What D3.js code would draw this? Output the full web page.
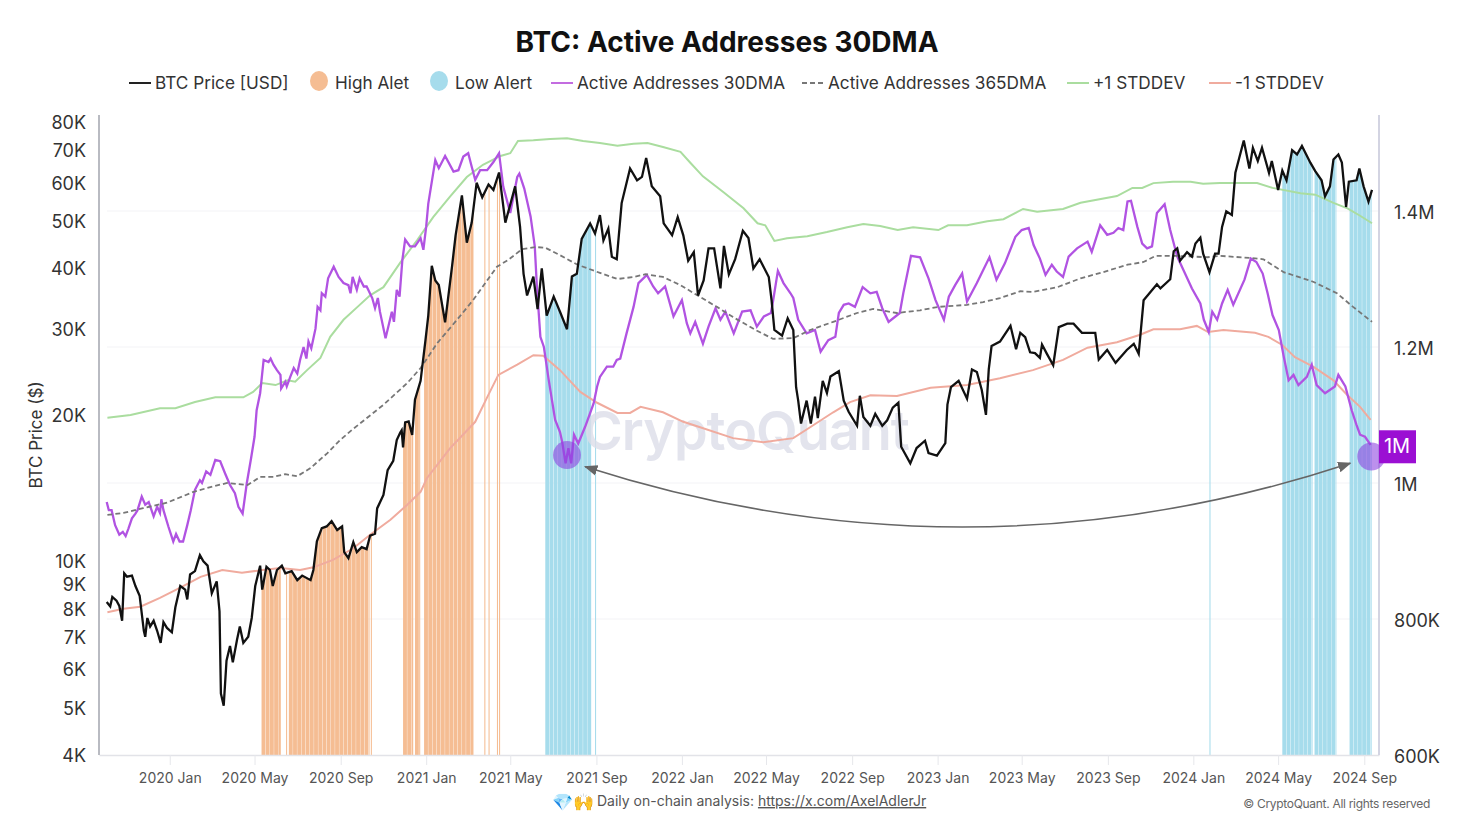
<!DOCTYPE html>
<html>
<head>
<meta charset="utf-8">
<title>BTC: Active Addresses 30DMA</title>
<script src="https://cdn.jsdelivr.net/npm/d3@7"></script>
<style>
  html, body { margin: 0; padding: 0; background: #fff; }
  text { font-family: Inter, "Noto Sans", sans-serif; }
</style>
</head>
<body>
<div id="chart"></div>
<script>
// all series: days since 2020-01-01 + value
var priceDays = [-90,-85,-82,-76,-72,-68,-65,-61,-54,-49,-43,-37,-35,-32,-28,-23,-18,-13,-9,-4,3,8,15,22,25,29,36,43,48,54,60,67,71,73,77,81,86,90,96,100,105,112,117,122,129,132,138,143,147,153,160,165,174,182,189,201,205,210,217,224,231,239,246,249,255,262,267,274,281,286,293,296,305,311,319,324,329,331,333,336,341,346,350,358,365,369,374,379,384,393,403,408,417,424,431,438,446,455,462,470,479,493,500,505,510,519,525,531,538,548,557,567,574,581,588,600,607,614,619,626,631,638,645,657,667,674,680,688,700,705,717,725,733,740,748,754,762,769,777,786,791,798,807,818,826,833,842,855,859,863,874,882,890,894,897,901,909,915,921,925,932,938,943,955,962,969,981,985,990,1000,1007,1017,1024,1032,1040,1044,1057,1066,1078,1083,1095,1107,1110,1115,1126,1138,1145,1152,1159,1165,1169,1173,1185,1200,1208,1214,1221,1228,1235,1242,1245,1252,1261,1269,1281,1290,1302,1321,1326,1338,1350,1366,1376,1383,1390,1409,1414,1428,1433,1438,1442,1452,1459,1464,1471,1475,1484,1492,1497,1502,1508,1516,1521,1533,1541,1546,1553,1559,1569,1573,1582,1588,1594,1602,1609,1616,1628,1635,1644,1649,1656,1661,1668,1673,1679,1683,1694,1698,1704,1711,1716];
var priceUsd = [8250,8080,8450,8300,8100,7550,9450,9300,9350,8900,8500,7200,7000,7650,7350,7550,7200,6800,7500,7300,7150,8050,8900,8750,8350,9400,9550,10300,10000,9800,8600,9100,7900,5350,5050,6250,6700,6200,6900,7350,6800,7000,7650,8900,9800,8750,9750,9600,8900,9600,9800,9450,9550,9150,9350,9150,9600,11000,11700,11800,12100,11600,11800,10450,10150,10950,10450,10700,10600,11300,11400,12850,13700,15400,16100,17750,18400,18600,17150,19300,19400,18200,21500,23500,28500,32000,40500,37800,37000,31000,40500,46800,56500,45200,49700,60000,56000,59500,58000,63000,49700,59000,48700,39000,35200,38500,33000,40000,32000,35000,32600,30000,38500,39000,46000,49500,47200,51500,45700,48300,42300,41800,54500,64200,60700,61700,67500,59000,56300,49500,46800,51000,46800,41500,43200,35200,37800,44000,44000,36400,44500,38900,41800,47800,46200,40000,41800,38400,34400,29900,29100,31600,29900,22800,21400,19200,21400,19200,21800,19700,23500,22200,24000,24600,21400,20300,19000,21900,19800,19000,20100,19000,19500,20700,21200,17200,15900,17100,17700,16700,16500,17500,21000,22800,23500,21600,24800,24500,22500,20000,24800,27700,28300,30500,27300,29500,28900,26900,26800,26200,27900,26700,25300,30300,30800,30800,29500,29500,26000,27200,25600,27200,28000,26700,34400,37100,36400,38000,43400,44000,41500,43200,42300,45000,46300,42900,39300,42900,42900,48700,52400,51500,62900,73300,64200,70800,66500,70800,62900,66500,58000,63600,60700,70000,68600,71400,66000,63400,60700,56300,59000,67000,68600,66000,53500,60300,60700,64200,59000,54900,58000];

var activeDays = [-90,-87,-83,-78,-72,-67,-63,-59,-54,-49,-46,-40,-35,-30,-23,-18,-14,-12,-9,-2,5,9,14,19,25,30,36,43,46,52,58,65,72,79,86,93,98,104,110,116,121,124,129,134,141,144,148,153,158,159,165,167,172,177,182,186,191,195,198,202,208,211,215,217,222,226,234,241,248,255,258,261,267,271,277,281,289,293,297,300,308,312,317,320,324,328,332,336,343,350,358,362,366,369,379,384,393,405,412,419,426,431,436,443,453,462,470,476,486,496,499,506,515,521,524,529,534,541,550,557,560,565,569,573,577,583,593,605,610,614,624,633,638,643,652,662,669,681,690,697,707,719,731,738,743,750,761,769,779,786,793,805,817,829,838,848,858,861,868,876,886,890,897,909,921,929,940,950,955,962,969,978,989,1000,1009,1017,1026,1042,1047,1058,1071,1083,1093,1105,1112,1121,1131,1138,1152,1170,1180,1192,1207,1216,1226,1233,1242,1250,1259,1266,1275,1283,1295,1310,1316,1328,1338,1347,1354,1361,1367,1372,1381,1388,1395,1402,1409,1420,1428,1438,1447,1459,1471,1476,1483,1488,1495,1502,1510,1518,1534,1543,1551,1560,1567,1574,1583,1590,1597,1604,1611,1623,1630,1637,1649,1663,1668,1678,1687,1694,1699,1706,1714];
var activeAddresses = [972,960,960,938,924,928,922,933,948,955,960,980,968,972,951,965,956,976,960,936,914,925,914,914,938,960,990,1004,1000,1017,1012,1034,1032,1014,997,985,965,955,1000,1036,1068,1107,1132,1181,1178,1183,1174,1166,1159,1139,1149,1142,1156,1169,1161,1181,1200,1183,1208,1198,1227,1259,1254,1279,1274,1301,1318,1303,1294,1291,1279,1303,1284,1301,1289,1289,1272,1257,1272,1252,1213,1230,1252,1237,1284,1274,1328,1358,1348,1348,1360,1343,1377,1411,1475,1463,1481,1458,1460,1480,1485,1465,1446,1460,1460,1472,1485,1436,1397,1450,1455,1433,1392,1348,1289,1215,1200,1151,1093,1075,1061,1029,1051,1029,1071,1058,1083,1117,1142,1156,1171,1171,1181,1183,1220,1259,1294,1306,1289,1279,1289,1245,1269,1235,1220,1237,1205,1230,1257,1240,1252,1220,1252,1254,1230,1245,1250,1267,1312,1294,1279,1272,1240,1220,1225,1193,1210,1215,1250,1262,1264,1259,1288,1279,1281,1257,1237,1250,1279,1334,1332,1301,1269,1240,1274,1291,1308,1267,1294,1332,1299,1323,1362,1372,1375,1350,1330,1306,1321,1311,1303,1333,1345,1355,1340,1379,1365,1368,1375,1372,1414,1415,1377,1352,1345,1348,1397,1410,1372,1333,1313,1286,1264,1240,1222,1252,1240,1264,1284,1262,1299,1330,1325,1308,1279,1247,1225,1186,1151,1159,1144,1156,1174,1144,1132,1142,1159,1142,1107,1085,1071,1068,1056];

var avgDays = [-89,-66,-38,-4,34,58,82,111,129,148,165,182,201,225,243,260,305,339,358,382,410,433,467,483,503,522,536,557,582,614,639,662,679,704,729,753,781,804,836,861,890,914,947,981,1004,1038,1071,1097,1138,1161,1185,1214,1232,1267,1300,1332,1367,1390,1407,1438,1481,1499,1542,1561,1590,1632,1666,1689,1716];
var avgAddresses = [953,956,963,971,987,994,1000,997,1009,1009,1013,1010,1022,1044,1063,1078,1115,1147,1169,1206,1240,1269,1318,1328,1344,1347,1346,1335,1321,1309,1300,1303,1307,1303,1291,1276,1259,1244,1225,1212,1213,1225,1237,1250,1256,1250,1254,1259,1262,1266,1272,1282,1281,1288,1301,1310,1321,1325,1334,1334,1332,1334,1331,1329,1310,1296,1279,1259,1237];

var upperDays = [-89,-56,-14,8,36,65,105,119,132,151,168,179,196,215,229,248,268,286,305,329,353,376,400,424,447,472,486,497,519,543,567,590,614,639,662,682,704,729,743,761,790,819,839,850,863,881,910,938,967,990,1014,1039,1061,1097,1111,1138,1167,1190,1218,1238,1275,1300,1352,1374,1388,1404,1432,1457,1475,1499,1518,1552,1574,1614,1635,1661,1681,1699,1716];
var upperBand = [1096,1100,1110,1110,1119,1126,1126,1134,1147,1144,1151,1149,1166,1184,1215,1240,1259,1276,1288,1324,1357,1391,1421,1450,1468,1481,1485,1503,1504,1506,1507,1503,1500,1496,1499,1500,1494,1487,1471,1451,1428,1404,1382,1379,1356,1360,1363,1369,1376,1381,1378,1372,1376,1372,1379,1379,1385,1388,1403,1399,1403,1412,1422,1434,1434,1441,1443,1443,1440,1441,1441,1441,1434,1426,1424,1412,1404,1393,1382];

var lowerDays = [-89,-66,-42,-14,15,44,75,103,132,158,186,205,233,262,286,315,339,358,367,400,436,453,469,496,519,533,557,586,610,639,657,672,704,733,757,804,847,890,914,947,971,1000,1038,1086,1138,1185,1232,1275,1310,1352,1385,1404,1442,1466,1482,1504,1549,1568,1588,1606,1632,1661,1681,1699,1714];
var lowerBand = [810,815,818,831,846,862,872,868,872,875,872,876,887,904,924,946,968,987,1007,1051,1090,1126,1159,1174,1188,1187,1166,1134,1118,1103,1103,1112,1104,1090,1082,1066,1060,1066,1082,1104,1119,1129,1128,1140,1144,1154,1166,1181,1199,1207,1218,1226,1226,1231,1222,1225,1221,1215,1203,1185,1171,1151,1129,1112,1093];

// alert columns as [first day, last day]
var highAlertRanges = [[131,159],[166,168],[170,285],[287,289],[333,348],[350,358],[363,434],[449,451],[455,457],[467,469],[470,472]];
var lowAlertRanges = [[536,602],[607,609],[1484,1486],[1588,1631],[1634,1665],[1684,1716]];

var priceTicks = [4000,5000,6000,7000,8000,9000,10000,20000,30000,40000,50000,60000,70000,80000];
var addressTicks = [600000,800000,1000000,1200000,1400000];
var addressTickLabels = ["600K","800K","1M","1.2M","1.4M"];
var monthTicks = ["2020-01-01","2020-05-01","2020-09-01","2021-01-01","2021-05-01","2021-09-01","2022-01-01","2022-05-01","2022-09-01","2023-01-01","2023-05-01","2023-09-01","2024-01-01","2024-05-01","2024-09-01"];

var legendLabels = ["BTC Price [USD]","High Alet","Low Alert","Active Addresses 30DMA","Active Addresses 365DMA","+1 STDDEV","-1 STDDEV"];
var legendX = [129,310,430,551,802,1067,1209];

var svgWidth = 1462;
var svgHeight = 826;
var plot = {left: 99, right: 1379, bottom: 755};

function dayToDate(d) {
  return d3.utcDay.offset(new Date(Date.UTC(2020, 0, 1)), d);
}
function zipped(days, values) {
  return days.map(function(d, i) { return {date: dayToDate(d), value: values[i]}; });
}

var xScale = d3.scaleUtc().domain([dayToDate(-101), dayToDate(1726)]).range([plot.left, plot.right]);
var yPrice = d3.scaleLog().domain([4000, 80000]).range([plot.bottom, 122]);
var yActive = d3.scaleLinear().domain([600, 1500]).range([plot.bottom, 143]);

var svg = d3.select("#chart").append("svg")
  .attr("width", svgWidth)
  .attr("height", svgHeight)
  .style("display", "block");

// gridlines follow the right axis
svg.append("g").selectAll("line")
  .data(addressTicks.slice(1))
  .join("line")
  .attr("x1", 107).attr("x2", plot.right)
  .attr("y1", function(d) { return yActive(d / 1000); })
  .attr("y2", function(d) { return yActive(d / 1000); })
  .attr("stroke", "#f3f3f6");

// alert columns only reach up to the price line
var priceData = zipped(priceDays, priceUsd);
var underPrice = d3.area()
  .x(function(d) { return xScale(d.date); })
  .y0(plot.bottom)
  .y1(function(d) { return yPrice(d.value); });
svg.append("clipPath").attr("id", "under-price")
  .append("path").attr("d", underPrice(priceData));

function drawAlerts(ranges, color) {
  var columns = [];
  ranges.forEach(function(r) {
    d3.range(r[0], r[1], 6).forEach(function(d) {
      columns.push([d, Math.min(d + 6, r[1])]);
    });
  });
  svg.append("g").attr("clip-path", "url(#under-price)")
    .selectAll("rect").data(columns).join("rect")
    .attr("x", function(c) { return xScale(dayToDate(c[0])); })
    .attr("width", function(c) { return Math.max(xScale(dayToDate(c[1])) - xScale(dayToDate(c[0])) - 0.35, 0.8); })
    .attr("y", 120)
    .attr("height", plot.bottom - 120)
    .attr("fill", color);
}
drawAlerts(highAlertRanges, "#f5bd93");
drawAlerts(lowAlertRanges, "#a6dcec");

// watermark sits over the columns, under the lines
svg.append("text")
  .attr("x", 746).attr("y", 450)
  .attr("text-anchor", "middle")
  .attr("font-size", 54)
  .attr("font-weight", 600)
  .attr("letter-spacing", -1)
  .attr("fill", "#dcdde8")
  .attr("fill-opacity", 0.8)
  .text("CryptoQuant");

// axes
var bottomAxis = d3.axisBottom(xScale)
  .tickValues(monthTicks.map(function(s) { return new Date(s + "T00:00:00Z"); }))
  .tickFormat(d3.utcFormat("%Y %b"))
  .tickSize(10)
  .tickSizeOuter(0)
  .tickPadding(8);
var xAxisGroup = svg.append("g").attr("transform", "translate(0," + plot.bottom + ")").call(bottomAxis);
xAxisGroup.select(".domain").attr("stroke", "#e2e3e8").attr("stroke-width", 1.5);
xAxisGroup.selectAll(".tick line").attr("stroke", "#e6e7eb");
xAxisGroup.selectAll("text").attr("font-size", 14).attr("fill", "#555");

var leftAxis = d3.axisLeft(yPrice)
  .tickValues(priceTicks)
  .tickFormat(function(d) { return (d / 1000) + "K"; })
  .tickSize(0)
  .tickPadding(13);
var leftGroup = svg.append("g").attr("transform", "translate(" + plot.left + ",0)").call(leftAxis);
leftGroup.select(".domain").attr("stroke", "#b9bbc2").attr("stroke-width", 2).attr("d", "M0,115V755");
leftGroup.selectAll("text").attr("font-size", 18).attr("fill", "#333").attr("dy", "0.36em");

var rightAxis = d3.axisRight(yActive)
  .tickValues(addressTicks.map(function(d) { return d / 1000; }))
  .tickFormat(function(d, i) { return addressTickLabels[i]; })
  .tickSize(0)
  .tickPadding(15);
var rightGroup = svg.append("g").attr("transform", "translate(" + plot.right + ",0)").call(rightAxis);
rightGroup.select(".domain").attr("stroke", "#d3d4e2").attr("stroke-width", 2).attr("d", "M0,115V755");
rightGroup.selectAll("text").attr("font-size", 18).attr("fill", "#333").attr("dy", "0.42em");

// series
var priceLine = d3.line()
  .x(function(d) { return xScale(d.date); })
  .y(function(d) { return yPrice(d.value); });
var activeLine = d3.line()
  .x(function(d) { return xScale(d.date); })
  .y(function(d) { return yActive(d.value); });

svg.append("path").attr("d", activeLine(zipped(upperDays, upperBand)))
  .attr("fill", "none").attr("stroke", "#aadd9f").attr("stroke-width", 2);
svg.append("path").attr("d", activeLine(zipped(lowerDays, lowerBand)))
  .attr("fill", "none").attr("stroke", "#f0ab9e").attr("stroke-width", 2);
svg.append("path").attr("d", activeLine(zipped(activeDays, activeAddresses)))
  .attr("fill", "none").attr("stroke", "#b153e2").attr("stroke-width", 2.3);
svg.append("path").attr("d", activeLine(zipped(avgDays, avgAddresses)))
  .attr("fill", "none").attr("stroke", "#777").attr("stroke-width", 1.8).attr("stroke-dasharray", "5,3");
svg.append("path").attr("d", priceLine(priceData))
  .attr("fill", "none").attr("stroke", "#111").attr("stroke-width", 2.3);

// annotation: the two lows and the arrow between them
var lowMarkers = [{day: 567, value: 1041}, {day: 1715, value: 1039}];
svg.append("g").selectAll("circle").data(lowMarkers).join("circle")
  .attr("cx", function(d) { return xScale(dayToDate(d.day)); })
  .attr("cy", function(d) { return yActive(d.value); })
  .attr("r", 14)
  .attr("fill", "#8b3fe0")
  .attr("fill-opacity", 0.58);

svg.append("defs").append("marker")
  .attr("id", "arrow-head").attr("viewBox", "0 0 10 10")
  .attr("refX", 9).attr("refY", 5)
  .attr("markerWidth", 9).attr("markerHeight", 9)
  .attr("orient", "auto-start-reverse")
  .append("path").attr("d", "M0,1L10,5L0,9Z").attr("fill", "#666");

var arrowPath = d3.path();
arrowPath.moveTo(xScale(dayToDate(593)), yActive(1024));
arrowPath.quadraticCurveTo(xScale(dayToDate(1138)), yActive(844), xScale(dayToDate(1685)), yActive(1029));
svg.append("path").attr("d", arrowPath.toString())
  .attr("fill", "none").attr("stroke", "#666").attr("stroke-width", 1.5)
  .attr("marker-start", "url(#arrow-head)")
  .attr("marker-end", "url(#arrow-head)");

// current value badge
var badgeY = yActive(1054);
svg.append("rect").attr("x", plot.right).attr("y", badgeY - 16).attr("width", 37).attr("height", 33).attr("fill", "#9b0fd3");
svg.append("text").attr("x", plot.right + 18).attr("y", badgeY + 7)
  .attr("text-anchor", "middle").attr("font-size", 20).attr("fill", "#fff").text("1M");

// title, y label
svg.append("text").attr("x", 727).attr("y", 51.5).attr("text-anchor", "middle")
  .attr("font-size", 28).attr("font-weight", 700).attr("fill", "#111")
  .text("BTC: Active Addresses 30DMA");
svg.append("text").attr("transform", "translate(42,435) rotate(-90)").attr("text-anchor", "middle")
  .attr("font-size", 17).attr("fill", "#333").text("BTC Price ($)");

// legend
var legendStyles = [
  {kind: "line", color: "#222"},
  {kind: "dot", color: "#f5bd93"},
  {kind: "dot", color: "#a6dcec"},
  {kind: "line", color: "#c36ce0"},
  {kind: "line", color: "#777", dash: "5,3"},
  {kind: "line", color: "#aadd9f"},
  {kind: "line", color: "#f0ab9e"}
];
var legend = svg.append("g").selectAll("g").data(legendLabels).join("g")
  .attr("transform", function(d, i) { return "translate(" + legendX[i] + ",82)"; });
legend.each(function(d, i) {
  var g = d3.select(this), s = legendStyles[i];
  if (s.kind === "line") {
    g.append("line").attr("x1", 0).attr("x2", 22).attr("y1", 1).attr("y2", 1)
      .attr("stroke", s.color).attr("stroke-width", 2).attr("stroke-dasharray", s.dash || null);
  } else {
    g.append("ellipse").attr("cx", 9).attr("cy", -1).attr("rx", 9).attr("ry", 10).attr("fill", s.color);
  }
  g.append("text").attr("x", s.kind === "line" ? 26 : 25).attr("y", 6.5)
    .attr("font-size", 17.2).attr("fill", "#333").text(d);
});

// footer
svg.append("text").attr("x", 552).attr("y", 808).attr("font-size", 17).text("💎🙌");
var footer = svg.append("text").attr("x", 597).attr("y", 806).attr("font-size", 14).attr("fill", "#555");
footer.append("tspan").text("Daily on-chain analysis: ");
footer.append("tspan").attr("text-decoration", "underline").text("https://x.com/AxelAdlerJr");
svg.append("text").attr("x", 1430).attr("y", 808).attr("text-anchor", "end")
  .attr("font-size", 12).attr("letter-spacing", -0.3).attr("fill", "#666").text("© CryptoQuant. All rights reserved");
</script>
</body>
</html>
